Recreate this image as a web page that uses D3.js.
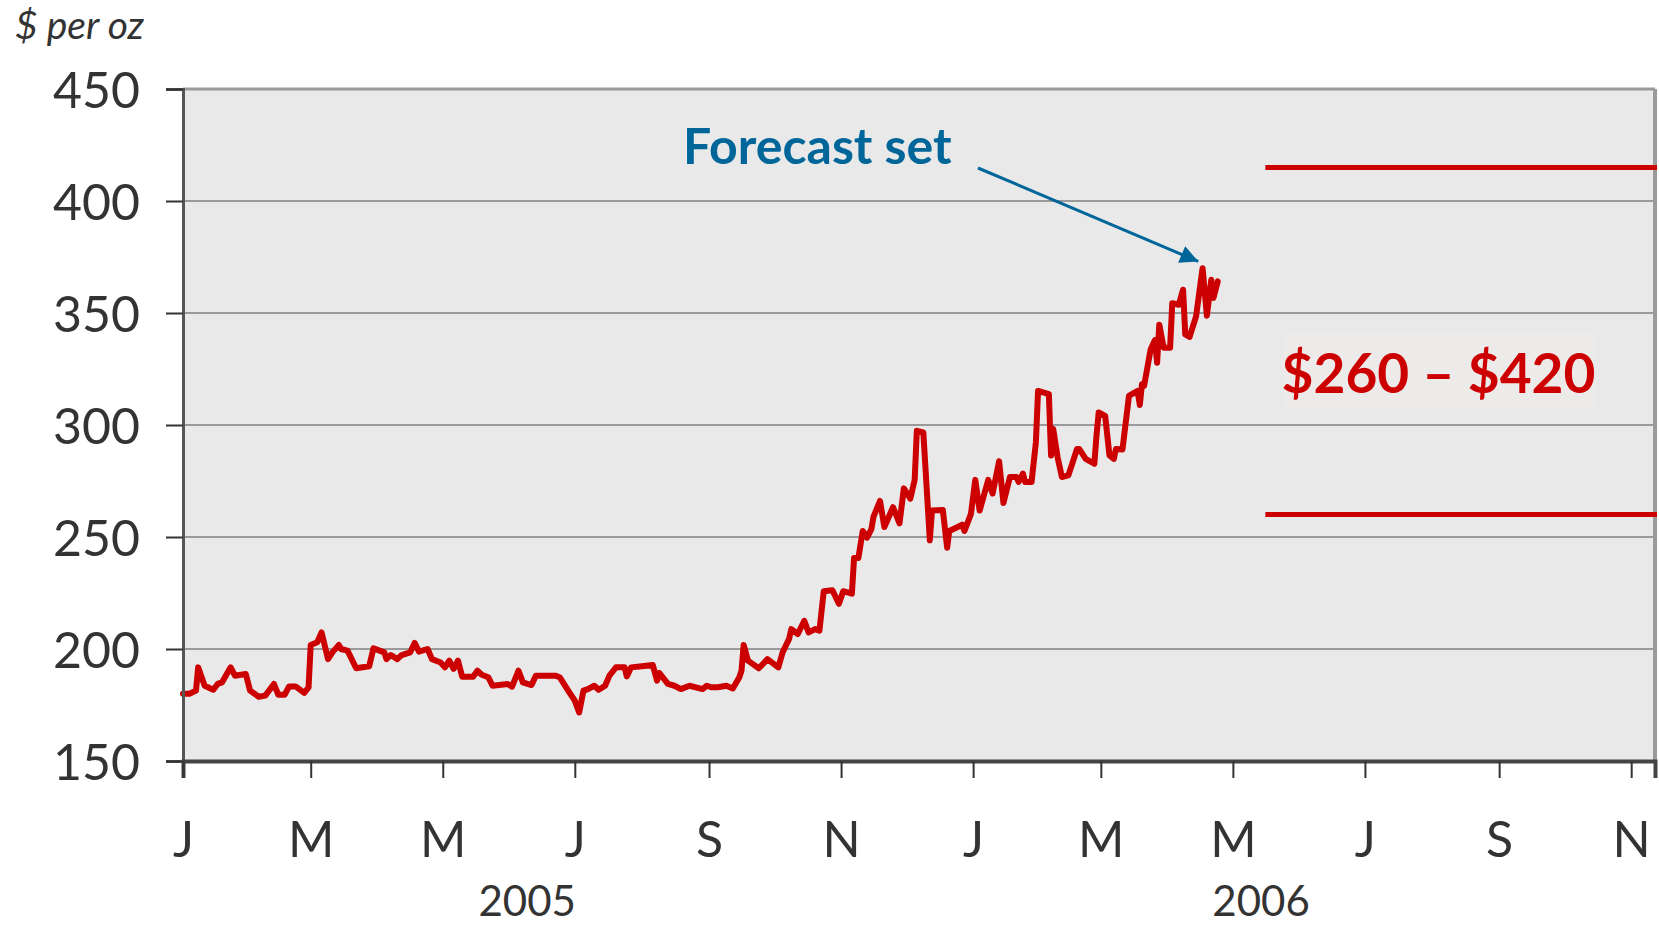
<!DOCTYPE html>
<html>
<head>
<meta charset="utf-8">
<script src="https://cdn.jsdelivr.net/npm/d3@7"></script>
<style>
  html, body { margin: 0; padding: 0; background: #ffffff; }
  svg { display: block; }
  text { font-family: "Lato", "Open Sans", sans-serif; }
</style>
</head>
<body>
<svg id="chart" width="1659" height="928"></svg>
<script>
// ---------------- DATA ----------------
const dates = [
  "2005-01-01","2005-01-04","2005-01-07","2005-01-08","2005-01-11","2005-01-15","2005-01-17","2005-01-19","2005-01-23","2005-01-25",
  "2005-01-30","2005-02-01","2005-02-05","2005-02-08","2005-02-12","2005-02-14","2005-02-17","2005-02-19","2005-02-22","2005-02-26",
  "2005-02-28","2005-03-01","2005-03-04","2005-03-06","2005-03-09","2005-03-11","2005-03-14","2005-03-15","2005-03-18","2005-03-22",
  "2005-03-28","2005-03-30","2005-04-04","2005-04-05","2005-04-07","2005-04-10","2005-04-12","2005-04-16","2005-04-18","2005-04-20",
  "2005-04-24","2005-04-26","2005-04-30","2005-05-02","2005-05-04","2005-05-06","2005-05-08","2005-05-10","2005-05-15","2005-05-17",
  "2005-05-19","2005-05-22","2005-05-24","2005-05-31","2005-06-02","2005-06-05","2005-06-07","2005-06-11","2005-06-13","2005-06-22",
  "2005-06-24","2005-06-27","2005-06-29","2005-07-01","2005-07-03","2005-07-05","2005-07-07","2005-07-10","2005-07-12","2005-07-15",
  "2005-07-17","2005-07-20","2005-07-24","2005-07-25","2005-07-27","2005-08-01","2005-08-06","2005-08-08","2005-08-09","2005-08-13",
  "2005-08-16","2005-08-19","2005-08-23","2005-08-29","2005-08-31","2005-09-02","2005-09-05","2005-09-09","2005-09-12","2005-09-15",
  "2005-09-16","2005-09-17","2005-09-19","2005-09-24","2005-09-28","2005-10-03","2005-10-05","2005-10-08","2005-10-09","2005-10-12",
  "2005-10-15","2005-10-17","2005-10-20","2005-10-22","2005-10-24","2005-10-28","2005-10-31","2005-11-02","2005-11-06","2005-11-07",
  "2005-11-09","2005-11-11","2005-11-13","2005-11-15","2005-11-16","2005-11-19","2005-11-21","2005-11-25","2005-11-28","2005-11-30",
  "2005-12-03","2005-12-05","2005-12-06","2005-12-09","2005-12-12","2005-12-13","2005-12-18","2005-12-20","2005-12-21","2005-12-27",
  "2005-12-28","2005-12-31","2006-01-02","2006-01-04","2006-01-08","2006-01-10","2006-01-13","2006-01-15","2006-01-18","2006-01-21",
  "2006-01-22","2006-01-24","2006-01-25","2006-01-28","2006-01-30","2006-01-31","2006-02-05","2006-02-06","2006-02-07","2006-02-09",
  "2006-02-11","2006-02-14","2006-02-18","2006-02-19","2006-02-22","2006-02-26","2006-02-27","2006-02-28","2006-03-03","2006-03-05",
  "2006-03-07","2006-03-08","2006-03-11","2006-03-14","2006-03-18","2006-03-19","2006-03-20","2006-03-21","2006-03-24","2006-03-26",
  "2006-03-27","2006-03-28","2006-03-30","2006-04-02","2006-04-03","2006-04-06","2006-04-08","2006-04-09","2006-04-11","2006-04-14",
  "2006-04-17","2006-04-19","2006-04-21","2006-04-22","2006-04-24"
];
const prices = [
  180,180,181.4,191.8,183.6,181.8,184.4,185.1,191.8,188.1,
  188.8,181.4,178.7,179.2,184.4,179.6,179.6,183.3,183.3,180.4,
  182.9,201.8,203,207.4,195.5,198.5,201.8,200,199.3,191.4,
  192.3,200.3,198.5,195.5,197.3,195.5,197.3,198.5,202.7,198.8,
  200,195.5,194,191.8,194.8,191.1,194.8,187.6,187.6,190.3,
  188.5,187.4,183.6,184.4,183.2,190.3,185.1,183.9,188.1,188.1,
  187.4,182.9,179.9,176.9,171.7,181.4,182.1,183.6,181.8,183.6,
  188.1,191.8,191.8,187.8,191.8,192.3,192.9,185.9,189.3,184.4,
  183.6,182.1,183.6,182.1,183.6,182.9,182.9,183.6,182.4,187.4,
  190.3,201.8,194.8,191.4,195.5,191.8,198.5,204.5,208.9,206.7,
  212.6,207.4,208.9,208.2,225.8,226.2,220.2,225.8,224.7,240.6,
  240.6,252.7,249.7,253.5,259.1,266.1,254.5,263.3,256.1,271.7,
  267.1,275.5,297.4,296.7,248.5,261.8,262.1,245.2,252.7,255.5,
  252.7,260.3,275.5,261.8,275.5,269.4,283.8,265.2,276.8,276.8,
  274.6,278.3,274.6,274.6,292.3,315.2,313.8,286.4,298.2,285.7,
  276.8,277.5,289.3,289.3,284.9,282.7,295.3,305.6,304.1,286.4,
  284.9,289.3,289.1,313,315.2,308.9,318.2,317.5,333.7,337.9,
  327.8,344.8,334.5,334.5,354.4,353.7,360.4,340.4,339.3,348.5,
  370,348.8,364.8,356.7,364.1
];
const yTicks = [150, 200, 250, 300, 350, 400, 450];
const xTickDates = ["2005-01-01","2005-03-01","2005-05-01","2005-07-01","2005-09-01","2005-11-01",
                    "2006-01-01","2006-03-01","2006-05-01","2006-07-01","2006-09-01","2006-11-01"];
const xTickLabels = ["J","M","M","J","S","N","J","M","M","J","S","N"];
const yearLabels = ["2005", "2006"];
const yearLabelDates = ["2005-06-09", "2006-05-14"];
const axisDomainDates = ["2005-01-01", "2006-11-12"];
const forecastStart = "2006-05-16";
const forecastLow = 260;
const forecastHigh = 415;
const forecastText = "$260 \u2013 $420";
const annotationText = "Forecast set";
const annotationTipDate = "2006-04-15";
const annotationTipValue = 373;
const unitLabel = "$ per oz";

// ---------------- LAYOUT ----------------
const parse = d3.timeParse("%Y-%m-%d");
const L = 183, R = 1655, T = 89, B = 761;
const svg = d3.select("#chart");

const x = d3.scaleTime().domain(axisDomainDates.map(parse)).range([L, R]);
const y = d3.scaleLinear().domain([150, 450]).range([B, T]);

const data = dates.map((d, i) => ({ date: parse(d), value: prices[i] }));

// plot background
svg.append("rect").attr("x", L).attr("y", T).attr("width", R - L).attr("height", B - T)
  .attr("fill", "#e9e9e9");

// gridlines
svg.append("g").selectAll("line").data(yTicks.filter(v => v > 150 && v < 450)).join("line")
  .attr("x1", L).attr("x2", R).attr("y1", d => y(d)).attr("y2", d => y(d))
  .attr("stroke", "#9a9a9a").attr("stroke-width", 2);

// top & right border
svg.append("line").attr("x1", L).attr("x2", R).attr("y1", T).attr("y2", T)
  .attr("stroke", "#9a9a9a").attr("stroke-width", 3);
svg.append("line").attr("x1", R).attr("x2", R).attr("y1", T).attr("y2", B)
  .attr("stroke", "#9a9a9a").attr("stroke-width", 4);

// forecast label box
const boxX0 = x(parse("2006-05-24")), boxX1 = x(parse("2006-10-15"));
svg.append("rect").attr("x", boxX0).attr("y", y(341)).attr("width", boxX1 - boxX0)
  .attr("height", y(307.5) - y(341)).attr("fill", "#ecebe9");

// forecast range lines
[forecastLow, forecastHigh].forEach(v => {
  svg.append("line").attr("x1", x(parse(forecastStart))).attr("x2", R + 2)
    .attr("y1", y(v)).attr("y2", y(v))
    .attr("stroke", "#cc0000").attr("stroke-width", 5);
});

svg.append("text").attr("x", (boxX0 + boxX1) / 2).attr("y", 393)
  .attr("text-anchor", "middle").attr("font-weight", 700).attr("font-size", 55)
  .attr("fill", "#cc0000").text(forecastText);

// price line
const line = d3.line().x(d => x(d.date)).y(d => y(d.value));
svg.append("path").datum(data).attr("d", line)
  .attr("fill", "none").attr("stroke", "#cc0000").attr("stroke-width", 6)
  .attr("stroke-linejoin", "round").attr("stroke-linecap", "round");

// y axis
const yAxis = d3.axisLeft(y).tickValues(yTicks).tickSize(17).tickPadding(26).tickFormat(d3.format("d"));
const gy = svg.append("g").attr("transform", `translate(${L},0)`).call(yAxis);
gy.select(".domain").attr("stroke", "#555").attr("stroke-width", 3);
gy.selectAll(".tick line").attr("stroke", "#333").attr("stroke-width", 2);
gy.selectAll(".tick text").attr("font-size", 50).attr("fill", "#333")
  .attr("font-family", "Lato, sans-serif").attr("dy", "0.36em");

// x axis
const xAxis = d3.axisBottom(x).tickValues(xTickDates.map(parse)).tickSize(17).tickPadding(0)
  .tickFormat((d, i) => xTickLabels[i]);
const gx = svg.append("g").attr("transform", `translate(0,${B})`).call(xAxis);
gx.select(".domain").attr("stroke", "#444").attr("stroke-width", 4);
gx.selectAll(".tick line").attr("stroke", "#333").attr("stroke-width", 2);
gx.selectAll(".tick text").attr("font-size", 50).attr("fill", "#333")
  .attr("font-family", "Lato, sans-serif").attr("dy", 0).attr("y", 96);

// year labels
svg.append("g").selectAll("text").data(yearLabels).join("text")
  .attr("x", (d, i) => x(parse(yearLabelDates[i]))).attr("y", 916)
  .attr("text-anchor", "middle").attr("font-size", 42).attr("fill", "#333").text(d => d);

// unit label
svg.append("text").attr("x", 15).attr("y", 39).attr("font-style", "italic")
  .attr("font-size", 39).attr("fill", "#333").text(unitLabel);

// annotation
const blue = "#00669a";
svg.append("text").attr("x", 683).attr("y", 164).attr("font-weight", 700).attr("font-size", 50)
  .attr("fill", blue).text(annotationText);

svg.append("defs").append("marker").attr("id", "arrow").attr("viewBox", "0 0 10 10")
  .attr("refX", 10).attr("refY", 5).attr("markerWidth", 6.5).attr("markerHeight", 6)
  .attr("orient", "auto").attr("markerUnits", "strokeWidth")
  .append("path").attr("d", "M0,0 L10,5 L0,10 z").attr("fill", blue);

const tipX = x(parse(annotationTipDate)), tipY = y(annotationTipValue);
svg.append("line").attr("x1", 978).attr("y1", 168).attr("x2", tipX).attr("y2", tipY)
  .attr("stroke", blue).attr("stroke-width", 3).attr("marker-end", "url(#arrow)");
</script>
</body>
</html>
